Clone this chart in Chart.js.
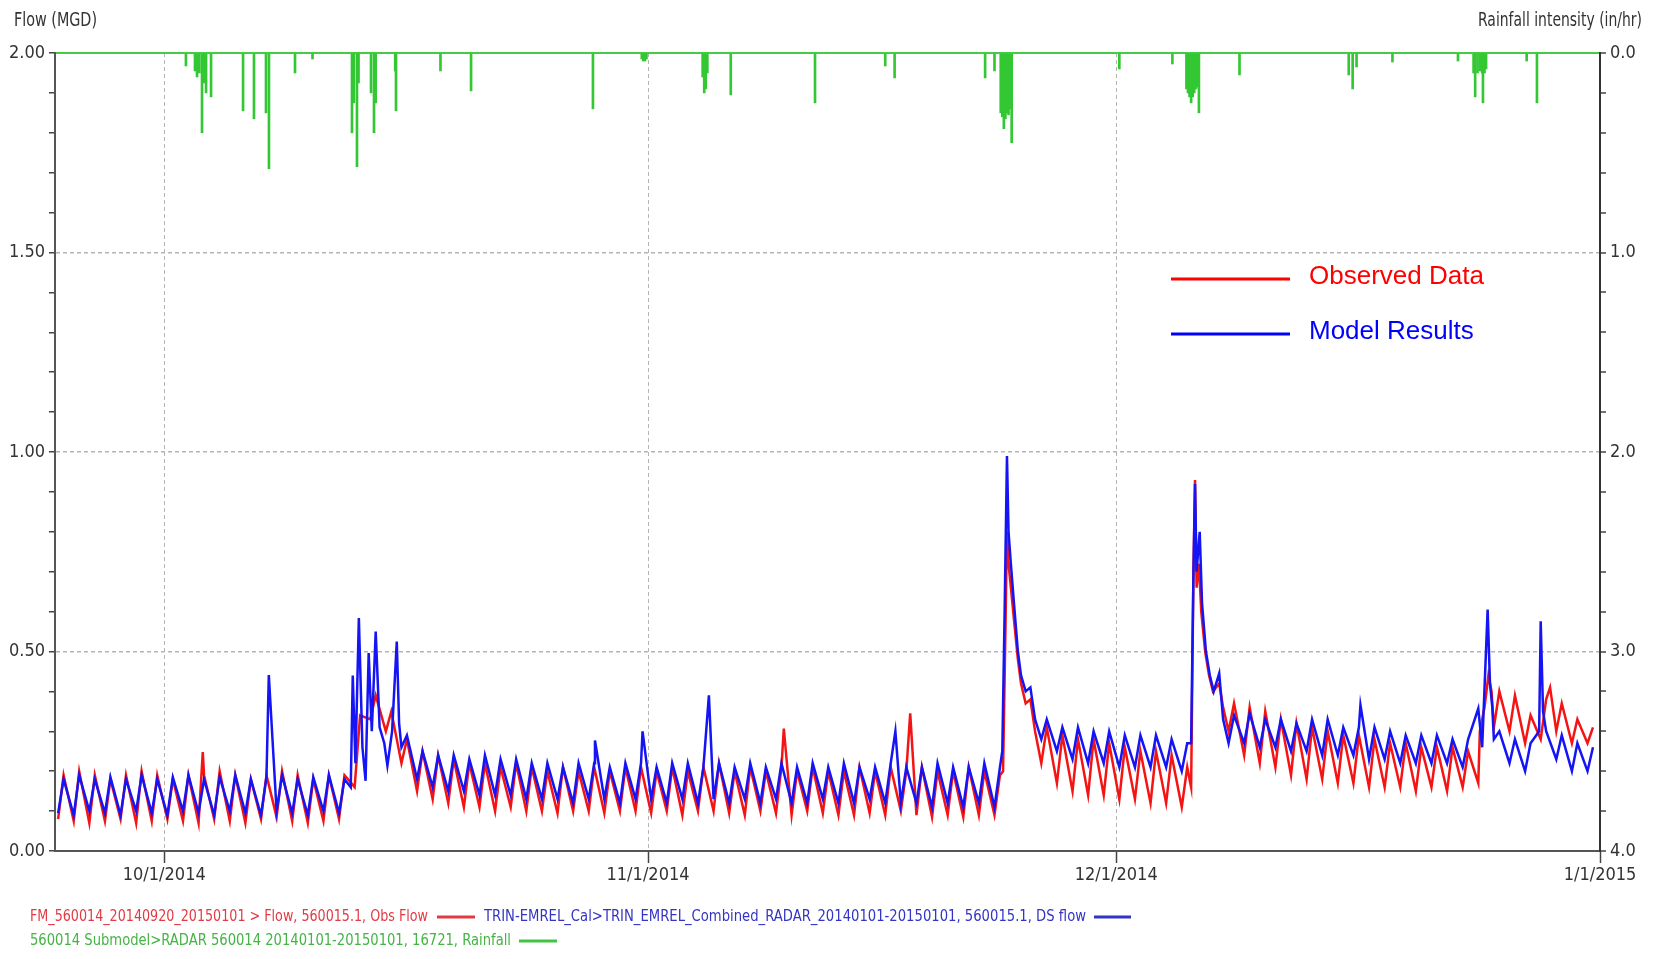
<!DOCTYPE html>
<html>
<head>
<meta charset="utf-8">
<script src="https://cdn.jsdelivr.net/npm/chart.js@4.4.1/dist/chart.umd.min.js"></script>
<style>
  body { margin: 0; background: #fff; }
  #wrap { width: 1658px; height: 959px; position: relative; }
</style>
</head>
<body>
<div id="wrap"><canvas id="flowChart"></canvas></div>
<script>
// x axis runs in days from 9/24/2014 00:00
const tickDays = [7, 38, 68, 99];
const tickLabels = ["10/1/2014", "11/1/2014", "12/1/2014", "1/1/2015"];

// daily flow readings (MGD), one value per day starting 9/24/2014
// "night" = early morning low, "day" = afternoon high; null where a storm list takes over
const obsNight = [
  0.08, 0.075, 0.07, 0.075, 0.08, 0.07, 0.075, 0.08, 0.075, 0.07,
  0.08, 0.075, 0.07, 0.08, 0.085, 0.075, 0.07, 0.075, 0.08,
  0.16, 0.33, 0.30, 0.22,
  0.15, 0.13, 0.12, 0.11, 0.11, 0.10, 0.11,
  0.10, 0.10, 0.095, 0.10, 0.10, 0.095, 0.10, 0.10, 0.095, 0.10,
  0.09, 0.10, 0.10, 0.095, 0.09, 0.10, 0.095, 0.09, 0.10, 0.095,
  0.09, 0.09, 0.095, 0.09, 0.10, 0.09, 0.085, 0.09, 0.085, 0.09, 0.09,
  null, null,
  0.22, 0.17, 0.15, 0.14, 0.14, 0.13, 0.13, 0.12, 0.12, 0.11,
  null, null,
  0.30, 0.24, 0.22, 0.21, 0.19, 0.18, 0.18, 0.17, 0.17, 0.16, 0.16, 0.16, 0.15, 0.16, 0.15, 0.16,
  0.17, 0.31, 0.30, 0.27, 0.28, 0.30, 0.27, 0.27
];
const obsDay = [
  0.19, 0.20, 0.19, 0.18, 0.19, 0.20, 0.19, 0.18, 0.19, 0.19,
  0.20, 0.19, 0.18, 0.19, 0.20, 0.19, 0.18, 0.19, 0.19,
  0.34, 0.39, 0.35, 0.28,
  0.25, 0.24, 0.23, 0.22, 0.22, 0.21, 0.22,
  0.21, 0.20, 0.21, 0.20, 0.21, 0.20, 0.21, 0.21, 0.20, 0.21,
  0.20, 0.21, 0.22, 0.20, 0.21, 0.20, 0.21, 0.20, 0.21, 0.20,
  0.20, 0.21, 0.20, 0.21, 0.20, 0.21, 0.20, 0.20, 0.21, 0.20, 0.19,
  null, null,
  0.31, 0.29, 0.28, 0.28, 0.27, 0.26, 0.25, 0.25, 0.24, 0.21,
  null, null,
  0.37, 0.36, 0.35, 0.33, 0.32, 0.31, 0.30, 0.29, 0.29, 0.28, 0.27, 0.27, 0.26, 0.26, 0.26, 0.25,
  null, 0.40, 0.39, 0.34, 0.38, 0.37, 0.33, 0.31
];
const modNight = [
  0.095, 0.09, 0.10, 0.095, 0.09, 0.10, 0.095, 0.09, 0.10, 0.095,
  0.09, 0.10, 0.095, 0.09, 0.10, 0.095, 0.09, 0.10, 0.095,
  null, null, null, 0.26,
  0.18, 0.16, 0.15, 0.15, 0.14, 0.14, 0.14,
  0.13, 0.13, 0.13, 0.12, 0.13, 0.13, 0.12, 0.13, 0.13, 0.12,
  0.13, 0.12, 0.13, 0.12, 0.13, 0.12, 0.13, 0.12, 0.12, 0.13,
  0.12, 0.12, 0.13, 0.12, 0.12, 0.12, 0.11, 0.12, 0.11, 0.12, 0.11,
  null, null,
  0.28, 0.25, 0.23, 0.22, 0.22, 0.21, 0.21, 0.21, 0.21, 0.20,
  null, null,
  0.27, 0.27, 0.26, 0.26, 0.25, 0.25, 0.24, 0.24, 0.24, 0.23, 0.23, 0.22, 0.22, 0.22, 0.22, 0.21,
  null, 0.28, 0.22, 0.20, null, 0.23, 0.20, 0.20
];
const modDay = [
  0.18, 0.19, 0.18, 0.185, 0.18, 0.19, 0.18, 0.185, 0.19, 0.18,
  0.185, 0.19, 0.18, 0.185, 0.19, 0.18, 0.185, 0.19, 0.18,
  null, null, null, 0.29,
  0.25, 0.24, 0.24, 0.23, 0.24, 0.23, 0.23,
  0.22, 0.22, 0.21, 0.22, 0.22, 0.21, 0.22, 0.22, 0.21, 0.22,
  0.22, 0.21, 0.22, 0.21, 0.22, 0.21, 0.22, 0.21, 0.22, 0.21,
  0.22, 0.21, 0.21, 0.22, 0.21, 0.21, 0.22, 0.21, 0.21, 0.22, 0.21,
  null, null,
  0.33, 0.31, 0.31, 0.30, 0.30, 0.29, 0.29, 0.29, 0.28, 0.27,
  null, null,
  0.34, 0.345, 0.33, 0.33, 0.32, 0.33, 0.33, 0.31, 0.31, 0.31, 0.30, 0.29, 0.29, 0.29, 0.28, 0.28,
  null, 0.30, 0.28, 0.27, 0.30, 0.29, 0.27, 0.26
];

// storm responses and spikes: [day, MGD]
const obsEvents = [
  [9.47, 0.248], [46.7, 0.307], [54.8, 0.345],
  [60.75, 0.20], [60.9, 0.55], [61.0, 0.80], [61.1, 0.72], [61.25, 0.66], [61.45, 0.58],
  [61.7, 0.48], [61.9, 0.42], [62.2, 0.37], [62.5, 0.38], [62.8, 0.30],
  [72.8, 0.16], [72.95, 0.70], [73.05, 0.93], [73.15, 0.66], [73.3, 0.72], [73.45, 0.60],
  [73.7, 0.50], [73.95, 0.44], [74.2, 0.40], [74.6, 0.42], [74.85, 0.36],
  [91.3, 0.30], [91.6, 0.36], [91.85, 0.44], [92.05, 0.40], [95.8, 0.41]
];
const modEvents = [
  [13.7, 0.441],
  [18.95, 0.16], [19.08, 0.44], [19.25, 0.22], [19.47, 0.584], [19.7, 0.26], [19.9, 0.176],
  [20.1, 0.496], [20.3, 0.30], [20.55, 0.55], [20.8, 0.31], [21.1, 0.27], [21.3, 0.214],
  [21.6, 0.30], [21.9, 0.525], [22.05, 0.32],
  [34.6, 0.277], [37.65, 0.30], [41.9, 0.39], [53.85, 0.30],
  [60.7, 0.25], [60.85, 0.60], [61.0, 0.99], [61.1, 0.80], [61.25, 0.72], [61.45, 0.62],
  [61.7, 0.50], [61.9, 0.44], [62.2, 0.40], [62.5, 0.41], [62.8, 0.33],
  [72.8, 0.27], [72.95, 0.70], [73.05, 0.92], [73.15, 0.70], [73.35, 0.80], [73.5, 0.62],
  [73.75, 0.50], [74.0, 0.44], [74.25, 0.40], [74.6, 0.445], [74.85, 0.33],
  [83.65, 0.366],
  [91.2, 0.357], [91.45, 0.26], [91.8, 0.605], [91.95, 0.42], [92.1, 0.36],
  [95.1, 0.30], [95.2, 0.576], [95.35, 0.35]
];

// rainfall intensity (in/hr)
const rainDay = [
  8.39, 8.97, 9.1, 9.25, 9.42, 9.55, 9.68, 10.0, 12.05, 12.75, 13.52, 13.71, 15.38, 16.5,
  19.03, 19.15, 19.35, 19.45, 20.25, 20.44, 20.55, 21.8, 21.85, 24.7, 26.66,
  34.47, 37.6, 37.7, 37.8, 37.9, 41.5, 41.6, 41.7, 41.8, 43.3, 48.7, 53.2, 53.8,
  59.6, 60.2, 60.6, 60.7, 60.8, 60.9, 61.0, 61.1, 61.2, 61.3,
  68.2, 71.6, 72.5, 72.6, 72.7, 72.8, 72.9, 73.0, 73.1, 73.2, 73.3, 75.9,
  82.9, 83.15, 83.4, 85.7, 89.9, 90.9, 91.0, 91.15, 91.3, 91.45, 91.5, 91.6, 91.7, 94.3, 94.96
];
const rainRate = [
  0.065, 0.09, 0.12, 0.10, 0.40, 0.15, 0.20, 0.22, 0.29, 0.33, 0.30, 0.58, 0.10, 0.03,
  0.40, 0.25, 0.57, 0.15, 0.20, 0.40, 0.25, 0.09, 0.29, 0.09, 0.19,
  0.28, 0.03, 0.04, 0.04, 0.03, 0.12, 0.20, 0.18, 0.10, 0.21, 0.25, 0.065, 0.125,
  0.125, 0.09, 0.30, 0.32, 0.38, 0.33, 0.30, 0.31, 0.28, 0.45,
  0.08, 0.055, 0.18, 0.20, 0.22, 0.25, 0.22, 0.20, 0.18, 0.17, 0.30, 0.11,
  0.11, 0.18, 0.07, 0.045, 0.04, 0.10, 0.22, 0.10, 0.09, 0.10, 0.25, 0.10, 0.08, 0.04, 0.25
];

const NIGHT_AT = 0.2;   // time of day of the low reading
const DAY_AT = 0.55;    // time of day of the high reading
const NARROW = "'Liberation Sans Narrow', 'DejaVu Sans Condensed', sans-serif";

function buildSeries(night, day, events) {
    const pts = [];
    night.forEach((v, d) => { if (v !== null) pts.push({x: d + NIGHT_AT, y: v}); });
    day.forEach((v, d) => { if (v !== null) pts.push({x: d + DAY_AT, y: v}); });
    events.forEach(([x, y]) => pts.push({x: x, y: y}));
    return pts.sort((a, b) => a.x - b.x);
}

const rainPts = rainDay.map((d, i) => ({x: d, y: rainRate[i]}));

// -------- Extra drawing: titles and legends --------
const decor = {
    id: 'decor',
    beforeDraw(chart) {
        const c = chart.ctx;
        c.save();
        c.fillStyle = '#fff';
        c.fillRect(0, 0, chart.width, chart.height);
        c.restore();
    },
    afterDraw(chart) {
        const c = chart.ctx;
        c.save();
        c.textBaseline = 'middle';

        // axis titles
        c.fillStyle = '#333';
        c.font = "19px " + NARROW;
        c.textAlign = 'left';
        c.fillText("Flow (MGD)", 14, 21, 83);
        c.textAlign = 'right';
        c.fillText("Rainfall intensity (in/hr)", 1642, 21, 164);

        // legend inside the plot
        c.textAlign = 'left';
        c.lineWidth = 3;
        c.font = "26px 'Liberation Sans', Arial, sans-serif";
        c.strokeStyle = '#ff0000';
        c.beginPath(); c.moveTo(1171, 279); c.lineTo(1290, 279); c.stroke();
        c.fillStyle = '#ff0000';
        c.fillText("Observed Data", 1309, 277);
        c.strokeStyle = '#0000ff';
        c.beginPath(); c.moveTo(1171, 334); c.lineTo(1290, 334); c.stroke();
        c.fillStyle = '#0000ff';
        c.fillText("Model Results", 1309, 332);

        // legend under the axis
        c.font = "16px " + NARROW;
        c.fillStyle = '#e23a44';
        c.fillText("FM_560014_20140920_20150101 > Flow, 560015.1, Obs Flow", 30, 917, 398);
        c.strokeStyle = '#e23a44';
        c.beginPath(); c.moveTo(437, 917); c.lineTo(475, 917); c.stroke();
        c.fillStyle = '#3434c4';
        c.fillText("TRIN-EMREL_Cal>TRIN_EMREL_Combined_RADAR_20140101-20150101, 560015.1, DS flow", 484, 917, 602);
        c.strokeStyle = '#3434c4';
        c.beginPath(); c.moveTo(1094, 917); c.lineTo(1131, 917); c.stroke();
        c.fillStyle = '#44b444';
        c.fillText("560014 Submodel>RADAR 560014 20140101-20150101, 16721, Rainfall", 30, 941, 481);
        c.strokeStyle = '#44c444';
        c.beginPath(); c.moveTo(519, 941); c.lineTo(557, 941); c.stroke();
        c.restore();
    }
};

const tickFont = {family: NARROW, size: 18};

const ctx = document.getElementById('flowChart').getContext('2d');
new Chart(ctx, {
    type: 'line',
    data: {
        datasets: [
            {
                label: 'Model Results',
                data: buildSeries(modNight, modDay, modEvents),
                borderColor: '#1414f5',
                borderWidth: 2.5,
                pointRadius: 0,
                tension: 0,
                yAxisID: 'y'
            },
            {
                label: 'Observed Data',
                data: buildSeries(obsNight, obsDay, obsEvents),
                borderColor: '#f51414',
                borderWidth: 2.5,
                pointRadius: 0,
                tension: 0,
                yAxisID: 'y'
            },
            {
                type: 'bar',
                label: 'Rainfall',
                data: rainPts,
                backgroundColor: '#33c833',
                barThickness: 2,
                yAxisID: 'y2'
            }
        ]
    },
    options: {
        responsive: true,
        maintainAspectRatio: false,
        animation: false,
        layout: { padding: { top: 53, bottom: 63, left: 0, right: 0 } },
        plugins: { legend: { display: false }, tooltip: { enabled: false } },
        scales: {
            x: {
                type: 'linear',
                min: 0,
                max: 99,
                offset: false,
                afterBuildTicks: s => { s.ticks = tickDays.map(v => ({ value: v })); },
                afterFit: s => { s.height = 45; },
                ticks: {
                    autoSkip: false,
                    maxRotation: 0,
                    padding: 2,
                    font: tickFont,
                    color: '#333',
                    callback: v => tickLabels[tickDays.indexOf(v)]
                },
                grid: { offset: false, color: '#b4b4b4', lineWidth: 1, tickLength: 12, tickColor: '#444', tickWidth: 1.5 },
                border: { color: '#555', width: 2, dash: [4, 3] }
            },
            y: {
                position: 'left',
                min: 0,
                max: 2,
                afterFit: s => { s.width = 55; },
                ticks: {
                    stepSize: 0.1,
                    autoSkip: false,
                    padding: 4,
                    font: tickFont,
                    color: '#333',
                    callback: v => (Math.round(v * 10) % 5 === 0 ? v.toFixed(2) : '')
                },
                grid: {
                    color: c => {
                        const k = Math.round(c.tick.value * 10);
                        return (k % 5 === 0 && k > 0 && k < 20) ? '#b4b4b4' : 'rgba(0,0,0,0)';
                    },
                    lineWidth: 1.5,
                    tickLength: 6,
                    tickColor: '#444',
                    tickWidth: 1.5
                },
                border: { color: '#555', width: 2, dash: [4, 3] }
            },
            y2: {
                position: 'right',
                reverse: true,
                min: 0,
                max: 4,
                afterFit: s => { s.width = 58; },
                ticks: {
                    stepSize: 0.2,
                    autoSkip: false,
                    padding: 4,
                    font: tickFont,
                    color: '#333',
                    callback: v => (Math.abs(v - Math.round(v)) < 1e-6 ? v.toFixed(1) : '')
                },
                grid: {
                    color: c => (c.tick && c.tick.value === 0 ? '#44cc44' : 'rgba(0,0,0,0)'),
                    lineWidth: 2,
                    tickLength: 6,
                    tickColor: '#444',
                    tickWidth: 1.5
                },
                border: { color: '#333', width: 2 }
            }
        }
    },
    plugins: [decor]
});
</script>
</body>
</html>
